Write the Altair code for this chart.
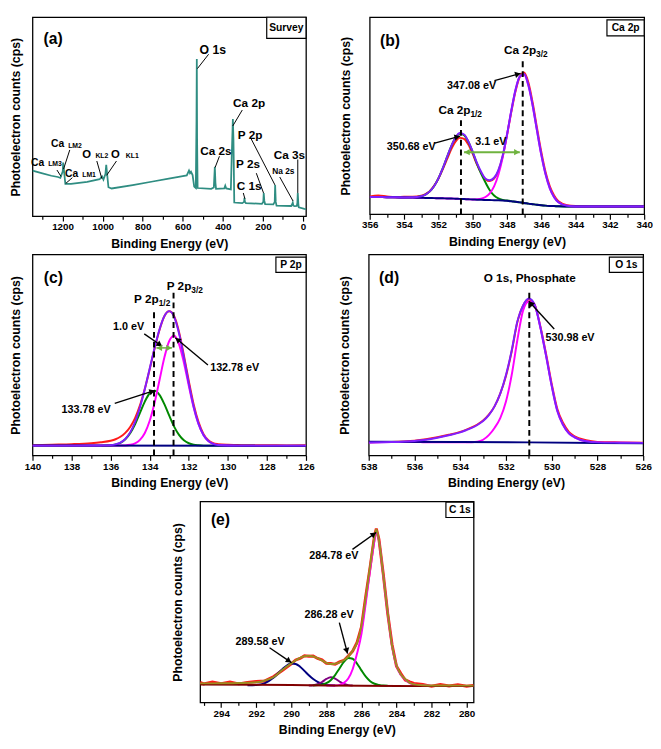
import math
import altair as alt
import pandas as pd

FONT = "Liberation Sans"
XT = "Binding Energy (eV)"
YT = "Photoelectron counts (cps)"

TEAL = "#2f8d82"
RED = "#ff1a1a"
PURPLE = "#7f1fff"
MAGENTA = "#ff00ff"
GREEN = "#008800"
NAVY = "#000080"
OLIVE = "#9b8d1f"
MAROON = "#800000"
DPURPLE = "#800080"
AGREEN = "#6fb33f"

# ---------------- (a) survey ----------------
survey_be = [1350, 1305, 1256, 1223, 1211, 1199, 1197, 1194, 1186, 1158, 1077, 1015, 1003, 996, 986, 982, 978,
             971, 955, 850, 750, 670, 600, 580, 569, 564, 559, 551, 543, 535, 531.5, 530, 528.5, 526, 458, 445,
             440, 437, 434, 393, 388, 383, 360, 356, 350, 347, 343, 303, 294, 292, 290, 285, 205, 198, 196, 193,
             189, 148, 141, 139, 136, 132, 59, 54, 51, 48, 42, 31, 28, 26, 23, 21, -7, -15]
survey_cps = [47.7, 45, 42.3, 41, 40, 47, 56, 50, 33.7, 33.7, 36, 38.7, 41.7, 38.3, 44, 53.7, 45,
              30.3, 29, 32.5, 36.3, 39.3, 42, 42.7, 47.7, 45, 46.5, 43, 31, 29.5, 100, 164.3, 80, 29.5, 28.7, 30,
              51.7, 35, 28.7, 29, 32, 29, 28, 60, 101.7, 80, 14.3, 13.7, 15, 19.3, 15, 13.7, 13, 15, 24.3, 16,
              12.7, 12.3, 15, 32.7, 15, 11, 10.7, 12.5, 14.3, 11, 10.5, 10.7, 14, 24.3, 12, 9.3, 7.7, 7.5]

# ---------------- (b) Ca 2p ----------------
ca_be = [356, 355.5, 355, 354.5, 354, 353.5, 353, 352.75, 352.5, 352.25, 352, 351.75, 351.5, 351.25, 351,
         350.75, 350.5, 350.25, 350, 349.75, 349.5, 349.25, 349, 348.75, 348.5, 348.25, 348, 347.75, 347.5,
         347.25, 347, 346.75, 346.5, 346.25, 346, 345.75, 345.5, 345.25, 345, 344.5, 344, 343, 342, 341, 340]
ca_raw = [18.5, 19.5, 18.5, 17.8, 18.2, 18.3, 19.3, 21, 24, 29.5, 37, 46.5, 57, 67.5, 75.5, 79.5, 78.5, 72.5,
          63, 52, 43, 36.5, 34.5, 37, 45, 60, 82, 106, 128, 143, 147.5, 137, 116, 90, 65, 44, 29, 19.5, 13.5,
          9.5, 8.5, 8.2, 8.1, 8, 8]
ca_fit = [18, 17.9, 17.8, 17.6, 17.5, 17.6, 18.7, 20.5, 23.8, 29.2, 37.1, 47.4, 59.2, 70.7, 79.6, 84.5, 83,
          75.8, 65.2, 53.4, 44, 37, 35.5, 38, 46, 61, 82.6, 107.4, 129.5, 143.5, 146, 134.5, 113.2, 87.3, 62.3,
          41.8, 27.0, 17.8, 12.6, 8.9, 8.1, 8, 8, 8, 8]
ca_p32 = [18, 17.9, 17.8, 17.6, 17.5, 17.3, 17.1, 17.0, 16.9, 16.8, 16.7, 16.6, 16.5, 16.4, 16.2, 16.0, 15.8,
          15.6, 15.4, 15.6, 16.2, 18.0, 21.8, 29.0, 41.2, 59.1, 82.1, 107.2, 129.3, 143.3, 145.1, 133.9, 112.9,
          87.1, 62.1, 41.6, 26.9, 17.7, 12.5, 8.8, 8.1, 8, 8, 8, 8]
ca_p12 = [18, 17.9, 17.8, 17.6, 17.5, 17.6, 18.7, 20.5, 23.8, 29.2, 37.1, 47.4, 59.2, 70.7, 79.6, 83.8, 82.3,
          75.4, 64.8, 52.6, 42, 33, 25, 19.5, 16.5, 15, 14.3, 13.7, 13.0, 12.4, 11.8, 11.1, 10.5, 9.9, 9.4, 9.0,
          8.7, 8.5, 8.3, 8.1, 8, 8, 8, 8, 8]
ca_bg = [18, 17.9, 17.8, 17.6, 17.5, 17.3, 17.1, 17.0, 16.9, 16.8, 16.7, 16.6, 16.5, 16.4, 16.2, 16.0, 15.8,
         15.6, 15.4, 15.2, 15.0, 14.9, 14.8, 14.6, 14.5, 14.3, 14.0, 13.6, 13.0, 12.4, 11.8, 11.1, 10.5, 9.9, 9.4,
         9.0, 8.7, 8.5, 8.3, 8.1, 8, 8, 8, 8, 8]

# ---------------- (c) P 2p ----------------
p_be = [140, 139, 138, 137, 136.5, 136, 135.75, 135.5, 135.25, 135, 134.75, 134.5, 134.25, 134, 133.75, 133.5,
        133.25, 133, 132.75, 132.5, 132.25, 132, 131.75, 131.5, 131.25, 131, 130.75, 130.5, 130, 129.5, 129,
        128, 127, 126]
p_raw = [10.5, 11, 11.5, 12.5, 13.5, 15, 16.5, 19, 23, 29, 38, 51, 68, 88, 109, 128, 142, 147, 142, 126, 102, 76,
         52, 34, 22, 15.5, 12.5, 11.5, 10.8, 10.6, 10.3, 10.5, 10.2, 10.3]
p_fit = [10, 10, 10, 10.1, 10.2, 10.5, 11.3, 13, 16.7, 23.5, 34.1, 49.2, 67.8, 88.7, 109.7, 128.5, 142.1, 147.2,
         141.4, 124.5, 100.0, 73.4, 49.7, 32.1, 20.8, 14.7, 11.8, 10.6, 10.1, 10, 10, 10, 10, 10]
p_p32 = [10, 10, 10, 10, 10, 10, 10, 10.1, 10.2, 10.8, 12.3, 15.8, 22.9, 35.3, 53.7, 76.7, 99.8, 116.7, 122,
         113.6, 94.6, 71, 48.8, 31.8, 20.8, 14.7, 11.8, 10.6, 10.1, 10, 10, 10, 10, 10]
p_p12 = [10, 10, 10, 10, 10, 10.4, 11.2, 12.9, 16.5, 22.7, 31.8, 43.4, 54.9, 63.4, 66, 61.8, 52.3, 40.5, 29.4,
         20.9, 15.4, 12.4, 10.9, 10.3, 10, 10, 10, 10, 10, 10, 10, 10, 10, 10]
p_bg_be = [140, 126]
p_bg = [10.2, 9.9]

# ---------------- (d) O 1s ----------------
o_be = [538, 537, 536, 535.5, 535, 534.5, 534, 533.75, 533.5, 533.25, 533, 532.75, 532.5, 532.25, 532, 531.75,
        531.5, 531.25, 531, 530.75, 530.5, 530.25, 530, 529.75, 529.5, 529.25, 529, 528.5, 528, 527, 526]
o_raw = [13.5, 13.8, 15, 16.5, 18.5, 21, 24, 26, 28.5, 31.5, 35.5, 41.5, 50, 63, 81, 106, 136, 153, 159, 154,
         132, 104, 73, 47, 33, 24, 19.5, 15.5, 13.8, 13.3, 13]
o_fit = [13.2, 13.6, 14.8, 16, 18, 20.5, 23.5, 25.7, 28, 31, 35, 41, 50, 63, 82, 107, 137, 153, 160, 154, 131,
         102, 71, 45, 31, 22.5, 18.5, 14.5, 13.3, 13, 12.8]
o_comp = [13.2, 13.6, 13.6, 13.5, 13.5, 13.5, 13.4, 13.4, 13.5, 14, 16, 20.7, 28, 38, 55, 82, 118, 148, 157, 153,
          131, 102, 71, 45, 31, 22.5, 18.5, 14.5, 13.3, 13, 12.8]
o_bg_be = [538, 534, 531, 528, 526]
o_bg = [13.9, 13.6, 13.3, 12.7, 12.4]

# ---------------- (e) C 1s ----------------
c_be = [295.2, 295, 294.5, 294, 293.5, 293, 292.5, 292, 291.5, 291, 290.5, 290, 289.75, 289.5, 289.25, 289,
        288.75, 288.5, 288.25, 288, 287.75, 287.5, 287.25, 287, 286.75, 286.5, 286.25, 286, 285.75, 285.5,
        285.25, 285.15, 285, 284.75, 284.5, 284.25, 284, 283.75, 283.5, 283.25, 283, 282.5, 282, 281.5, 281,
        280.5, 280, 279.6]
c_raw = [20.5, 19, 21, 19.3, 20.8, 19, 20.5, 21.5, 22, 26.5, 33, 39.5, 43.5, 45, 47.8, 47.2, 47.5, 45, 43.5, 40,
         39.8, 39, 41.5, 43, 47.5, 52.5, 61.5, 77, 109, 139, 171, 178, 167, 131, 91, 59, 37, 29.5, 23, 21, 19.5,
         18.5, 16.5, 18.3, 16.8, 18.2, 16.5, 17.5]
c_fit = [19.5, 19.5, 19.5, 19.6, 19.7, 19.8, 20.1, 20.6, 22.5, 26, 33.5, 40, 43, 45.5, 47.2, 47.7, 47, 45.3, 43,
         40.5, 39.3, 39.6, 41, 43.2, 47, 53, 61, 78, 108, 140, 170, 177, 166, 130, 92, 58, 38, 28.5, 24, 20,
         18.5, 17.6, 17.4, 17.3, 17.3, 17.2, 17.2, 17.2]
c_main_be = [288, 287.5, 287.25, 287, 286.75, 286.5, 286.25, 286, 285.75, 285.5, 285.25, 285.15, 285, 284.75,
             284.5, 284.25, 284, 283.75, 283.5, 283.25, 283, 282.5, 282]
c_main = [17.3, 17.4, 18, 20, 24.5, 34, 50, 70, 102, 136, 166, 175, 165.5, 129.5, 91.5, 57.5, 37.5, 28, 23.5,
          19.8, 18.3, 17.3, 17.2]
c_286_be = [288.75, 288.25, 288, 287.75, 287.5, 287.25, 287, 286.75, 286.5, 286.25, 286, 285.75, 285.5, 285.25,
            285, 284.75, 284.5]
c_286 = [17.4, 18.2, 19.7, 22.8, 28, 34.8, 41.5, 45.4, 44.7, 39.8, 32.8, 26.3, 21.7, 19.1, 17.9, 17.3, 17.2]
c_287_be = [289, 288.75, 288.5, 288.25, 288, 287.75, 287.5, 287.25, 287, 286.75, 286.5]
c_287 = [17.3, 17.6, 18.6, 20.9, 24, 25.7, 24.4, 21.4, 18.9, 17.7, 17.3]
c_289_be = [292.5, 292, 291.5, 291, 290.5, 290, 289.75, 289.5, 289.25, 289, 288.75, 288.5, 288.25, 288, 287.75,
            287.5]
c_289 = [17.6, 17.9, 19.8, 25.5, 34.3, 39.9, 39.4, 36.6, 32.3, 27.8, 23.9, 21, 19.1, 18.1, 17.6, 17.4]
c_bg_be = [295.2, 292, 290, 288, 286, 284, 282, 279.6]
c_bg = [18.4, 18.1, 17.8, 17.4, 17.1, 16.9, 16.7, 16.7]

# tick values of each panel
ticks_a = list(range(0, 1400, 100))
ticks_b = list(range(340, 357))
ticks_c = list(range(126, 141))
ticks_d = list(range(526, 539))
ticks_e = list(range(280, 296))

PA = dict(lo=-15, hi=1350, ymax=208, W=279, H=203, ticks=ticks_a, major=200, tpad=10.5)
PB = dict(lo=340, hi=356, ymax=205, W=280, H=201, ticks=ticks_b, major=2, tpad=17.4)
PC = dict(lo=126, hi=140, ymax=205, W=279, H=205, ticks=ticks_c, major=2, tpad=10.5)
PD = dict(lo=526, hi=538, ymax=205, W=280, H=205, ticks=ticks_d, major=2, tpad=17.4)
PE = dict(lo=279.6, hi=295.2, ymax=205.7, W=279, H=205, ticks=ticks_e, major=2, tpad=16.5)


def X(p, field="x"):
    m = p["major"]
    return alt.X(
        f"{field}:Q", title=XT,
        scale=alt.Scale(domain=[p["lo"], p["hi"]], reverse=True, nice=False, zero=False),
        axis=alt.Axis(values=p["ticks"], format="d",
                      labelExpr=f"datum.value % {m} === 0 ? datum.label : ''",
                      tickSize={"condition": {"test": f"datum.value % {m} === 0", "value": 5}, "value": 3},
                      labelFlush=False, labelOverlap=False, grid=False, domain=False,
                      tickColor="black", tickWidth=1.2, labelPadding=1, titlePadding=6,
                      labelFont=FONT, labelFontSize=10, labelFontWeight="bold", labelColor="black",
                      titleFont=FONT, titleFontSize=12.5, titleFontWeight="bold", titleColor="black"))


def Y(p, field="y"):
    return alt.Y(
        f"{field}:Q", title=YT,
        scale=alt.Scale(domain=[0, p["ymax"]], nice=False, zero=False),
        axis=alt.Axis(labels=False, ticks=False, domain=False, grid=False, titlePadding=p["tpad"],
                      titleFont=FONT, titleFontSize=12.5, titleFontWeight="bold", titleColor="black"))


def curve(p, xs, ys, color, width=2.0, interp="monotone"):
    df = pd.DataFrame({"x": xs, "y": ys})
    return alt.Chart(df).mark_line(color=color, strokeWidth=width, interpolate=interp, clip=True).encode(
        x=X(p), y=Y(p), order=alt.Order("x:Q", sort="descending"))


def texts(p, rows, size, align="center"):
    df = pd.DataFrame(rows, columns=["t", "x", "y"])
    return alt.Chart(df).mark_text(font=FONT, fontSize=size, fontWeight="bold", color="black", align=align,
                                   baseline="middle").encode(x=X(p), y=Y(p), text="t:N")


def segs(p, rows, color="black", width=1.0, dash=None):
    df = pd.DataFrame(rows, columns=["x", "y", "x2", "y2"])
    kw = dict(color=color, strokeWidth=width)
    if dash:
        kw["strokeDash"] = dash
    return alt.Chart(df).mark_rule(**kw).encode(x=X(p), y=Y(p), x2="x2:Q", y2="y2:Q")


def box(p, x1, x2, y1, y2):
    df = pd.DataFrame({"x": [x1], "x2": [x2], "y": [y1], "y2": [y2]})
    return alt.Chart(df).mark_rect(fill="white", stroke="black", strokeWidth=1.2).encode(
        x=X(p), y=Y(p), x2="x2:Q", y2="y2:Q")


def head(p, x1, y1, x2, y2):
    kx = p["W"] / (p["hi"] - p["lo"])
    ky = p["H"] / p["ymax"]
    dx = -(x2 - x1) * kx
    dy = -(y2 - y1) * ky
    L = math.hypot(dx, dy)
    ux, uy = dx / L, dy / L
    ang = math.degrees(math.atan2(dy, dx)) % 360
    cx = x2 + 3.0 * ux / kx
    cy = y2 + 3.0 * uy / ky
    return (cx, cy, ang)


def arrows(p, rows, color="black", width=1.4, both=False):
    hs = []
    for (x1, y1, x2, y2) in rows:
        hs.append(head(p, x1, y1, x2, y2))
        if both:
            hs.append(head(p, x2, y2, x1, y1))
    df = pd.DataFrame(hs, columns=["x", "y", "a"])
    pts = alt.Chart(df).mark_point(shape="triangle-right", filled=True, size=42, opacity=1, color=color,
                                   strokeWidth=0).encode(x=X(p), y=Y(p), angle=alt.Angle("a:Q", scale=None))
    return [segs(p, rows, color=color, width=width), pts]


def panel(p, layers):
    return alt.layer(*layers).properties(width=p["W"], height=p["H"])


# ---------------- panel (a) ----------------
pa = panel(PA, [
    curve(PA, survey_be, survey_cps, TEAL, 1.8, "linear"),
    segs(PA, [(527, 154.3, 471, 169.3), (350.5, 94.3, 303, 111), (438.5, 51, 417, 62.7), (259, 81, 140, 32.7),
              (233, 45, 197, 24.3), (298, 24.3, 290, 18.3), (116, 41, 50, 16), (26, 59.3, 26, 24.3),
              (1164, 69.3, 1195, 49.3), (1228, 48.3, 1208, 41.7), (1151, 40.3, 1184, 34.3),
              (1029, 57.7, 1004, 39.3), (931, 57.7, 980, 42.7)], width=1.0),
    texts(PA, [("O 1s", 450, 174)], 12.5),
    texts(PA, [("Ca 2p", 269, 118), ("P 2p", 264, 85), ("Ca 2s", 435, 68), ("P 2s", 274, 54),
               ("C 1s", 269, 31), ("Ca 3s", 68, 64)], 12),
    texts(PA, [("Na 2s", 98, 47)], 8.5),
    texts(PA, [("Ca", 1192, 75), ("Ca", 1292, 56), ("Ca", 1122, 44.3)], 10.5, "right"),
    texts(PA, [("LM2", 1172, 73.5), ("LM3", 1272, 54.5), ("LM1", 1102, 42.8)], 7, "left"),
    texts(PA, [("O", 1058, 64.3), ("O", 914, 64.3)], 11.5, "right"),
    texts(PA, [("KL2", 1036, 62.5), ("KL1", 884, 62.5)], 7, "left"),
    texts(PA, [("(a)", 1247, 185)], 16),
    box(PA, 181, -15, 186, 208),
    texts(PA, [("Survey", 83, 197)], 10.5),
])

# ---------------- panel (b) ----------------
pb = panel(PB, [
    curve(PB, ca_be, ca_raw, RED),
    curve(PB, ca_be, ca_p12, GREEN),
    curve(PB, ca_be, ca_p32, MAGENTA),
    curve(PB, ca_be, ca_bg, NAVY),
    curve(PB, ca_be, ca_fit, PURPLE),
    segs(PB, [(347.08, 0, 347.08, 162), (350.68, 0, 350.68, 100)], width=2, dash=[6, 4]),
    *arrows(PB, [(348.73, 139, 347.2, 146.6), (352.21, 74, 350.73, 81.3)]),
    *arrows(PB, [(350.5, 64.6, 347.25, 64.6)], color=AGREEN, width=2, both=True),
    texts(PB, [("347.08 eV", 350.06, 133.3), ("350.68 eV", 353.58, 69.6), ("3.1 eV", 348.94, 75)], 11),
    texts(PB, [("Ca 2p", 346.30, 170.6), ("Ca 2p", 350.13, 108.3)], 12, "right"),
    texts(PB, [("3/2", 346.30, 166.5), ("1/2", 350.13, 104)], 8.5, "left"),
    texts(PB, [("(b)", 354.82, 180.6)], 16),
    box(PB, 342.17, 340, 185.6, 202.3),
    texts(PB, [("Ca 2p", 341.08, 194)], 10.5),
])

# ---------------- panel (c) ----------------
pc = panel(PC, [
    curve(PC, p_be, p_raw, RED),
    curve(PC, p_be, p_p12, GREEN),
    curve(PC, p_be, p_p32, MAGENTA),
    curve(PC, p_bg_be, p_bg, NAVY, 2.0, "linear"),
    curve(PC, p_be, p_fit, PURPLE),
    segs(PC, [(133.78, 0, 133.78, 149), (132.78, 0, 132.78, 167)], width=2, dash=[6, 4]),
    *arrows(PC, [(134.28, 124, 133.36, 111.3), (131.02, 92.3, 132.69, 120), (135.79, 53, 133.73, 66.3)]),
    *arrows(PC, [(133.66, 109.7, 132.86, 109.7)], color=AGREEN, width=1.5, both=True),
    texts(PC, [("1.0 eV", 135.08, 131.3), ("132.78 eV", 129.65, 89), ("133.78 eV", 137.26, 46.3)], 11),
    texts(PC, [("P 2p", 131.87, 172.3), ("P 2p", 133.54, 159)], 12, "right"),
    texts(PC, [("3/2", 131.87, 169), ("1/2", 133.54, 155.7)], 8.5, "left"),
    texts(PC, [("(c)", 138.93, 180.7)], 16),
    box(PC, 127.54, 126, 186.7, 202.3),
    texts(PC, [("P 2p", 126.77, 194.5)], 10.5),
])

# ---------------- panel (d) ----------------
pd_ = panel(PD, [
    curve(PD, o_be, o_raw, RED),
    curve(PD, o_be, o_comp, MAGENTA),
    curve(PD, o_bg_be, o_bg, NAVY, 2.0, "linear"),
    curve(PD, o_be, o_fit, PURPLE),
    segs(PD, [(530.98, 0, 530.98, 170)], width=2, dash=[6, 4]),
    *arrows(PD, [(529.89, 129, 531.0, 157.3)]),
    texts(PD, [("O 1s, Phosphate", 530.96, 180.7)], 12),
    texts(PD, [("530.98 eV", 529.2, 120)], 11),
    texts(PD, [("(d)", 537.11, 180.7)], 16),
    box(PD, 527.48, 526, 186.7, 202.3),
    texts(PD, [("O 1s", 526.74, 194.5)], 10.5),
])

# ---------------- panel (e) ----------------
pe = panel(PE, [
    curve(PE, c_be, c_raw, RED, 3.0, "linear"),
    curve(PE, c_289_be, c_289, NAVY),
    curve(PE, c_287_be, c_287, DPURPLE),
    curve(PE, c_286_be, c_286, GREEN),
    curve(PE, c_main_be, c_main, MAGENTA),
    curve(PE, c_bg_be, c_bg, MAROON, 2.0, "linear"),
    curve(PE, c_be, c_fit, OLIVE),
    *arrows(PE, [(286.51, 156.7, 285.16, 174), (287.26, 81.7, 286.79, 50), (291.24, 56, 289.99, 40.7)]),
    texts(PE, [("284.78 eV", 287.57, 150), ("286.28 eV", 287.84, 89.3), ("289.58 eV", 291.78, 61.7)], 11),
    texts(PE, [("(e)", 294.04, 186.7)], 16),
    box(PE, 281.18, 279.6, 189.3, 205),
    texts(PE, [("C 1s", 280.39, 197)], 10.5),
])

spacer = alt.Chart(pd.DataFrame({"x": [0]})).mark_point(opacity=0).encode(
    x=alt.X("x:Q", axis=None), y=alt.Y("x:Q", axis=None)
).properties(width=139, height=20, view=alt.ViewBackground(stroke="transparent"))

row1 = alt.hconcat(pa, pb, spacing=31)
row2 = alt.hconcat(pc, pd_, spacing=23)
row3 = alt.hconcat(spacer, pe, spacing=0)

chart = alt.vconcat(alt.vconcat(row1, row2, spacing=2), row3, spacing=10).properties(
    padding=0
).configure_view(stroke="black", strokeWidth=1.3)

chart.save("out.html", embed_options={"renderer": "svg", "actions": False})
